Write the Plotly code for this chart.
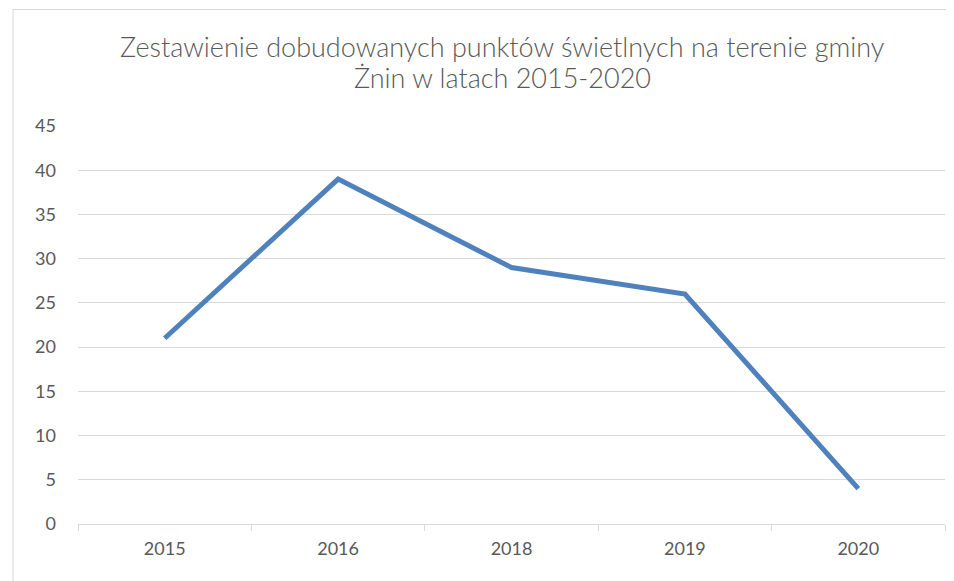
import plotly.graph_objects as go

years = ["2015", "2016", "2018", "2019", "2020"]
values = [21, 39, 29, 26, 4]
y_ticks = [0, 5, 10, 15, 20, 25, 30, 35, 40, 45]
title_lines = ["Zestawienie dobudowanych punktów świetlnych na terenie gminy", "Żnin w latach 2015-2020"]

W, H = 954, 581
OFF = 8  # page body margin offset
ml, mt = 78 - OFF, 126 - OFF
mr = W - (945 - OFF)
mb = H - (524 - OFF)
pw, ph = W - ml - mr, H - mt - mb


def px_x(x):
    return (x - OFF - ml) / pw


def px_y(y):
    return (H - mb - (y - OFF)) / ph


fig = go.Figure()
fig.add_trace(go.Scatter(
    x=years, y=values, mode="lines",
    line=dict(color="#4F81BD", width=5),
    hoverinfo="x+y", showlegend=False,
))

fig.update_layout(
    width=W, height=H,
    margin=dict(l=ml, r=mr, t=mt, b=mb, autoexpand=False),
    paper_bgcolor="white", plot_bgcolor="white",
    font=dict(family="Lato, Open Sans, sans-serif", color="#595959"),
    xaxis=dict(
        type="category", range=[-0.5, 4.5], automargin=False,
        showgrid=False, showline=True, linecolor="#d9d9d9", linewidth=1,
        ticks="outside", tickson="boundaries", ticklen=6, tickcolor="#d9d9d9",
        tickfont=dict(size=18, color="#595959"), ticklabelstandoff=8,
        zeroline=False,
    ),
    yaxis=dict(
        range=[0, 45], tickvals=y_ticks, automargin=False,
        showgrid=True, gridcolor="#d9d9d9", gridwidth=1,
        showline=False, zeroline=False, ticks="",
        tickfont=dict(size=18, color="#595959"), ticklabelstandoff=21,
    ),
    annotations=[
        dict(text=title_lines[0], xref="paper", yref="paper",
             x=px_x(502), y=px_y(47), xanchor="center", yanchor="middle",
             showarrow=False, font=dict(size=27, color="#595959", weight=300)),
        dict(text=title_lines[1], xref="paper", yref="paper",
             x=px_x(502), y=px_y(78), xanchor="center", yanchor="middle",
             showarrow=False, font=dict(size=27, color="#595959", weight=300)),
    ],
    shapes=[
        dict(type="rect", xref="paper", yref="paper", layer="below",
             x0=px_x(13), x1=px_x(1010),
             y0=px_y(620), y1=px_y(9.5),
             line=dict(color="#d9d9d9", width=1), fillcolor="rgba(0,0,0,0)"),
    ],
)

fig.write_html("out.html")
